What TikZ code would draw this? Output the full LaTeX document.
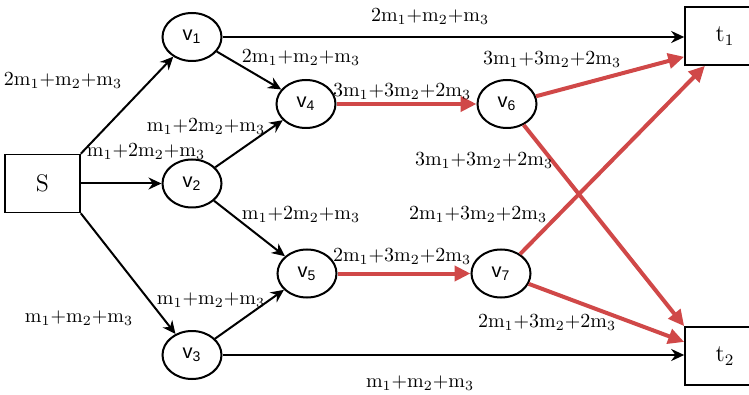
\documentclass[tikz,border=0pt]{standalone}
\usepackage{fontspec}
\usepackage{xcolor}
\usetikzlibrary{arrows.meta, shapes.geometric}
\newfontfamily\vfont{Liberation Sans}
\definecolor{cflow}{HTML}{D04848}
\definecolor{cbk}{HTML}{000000}
\newcommand{\mm}[1]{\mathrm{m}_{#1}}

\begin{document}
\begin{tikzpicture}[x=0.5pt, y=-0.5pt]
    \useasboundingbox (0, 0) rectangle (749, 395);
    \begin{scope}[
        vnode/.style={ellipse, draw=cbk, line width=1pt, minimum width=29.5pt, minimum height=24pt, inner sep=0pt, font=\vfont\normalsize},
        endbox/.style={rectangle, draw=cbk, line width=0.8pt, minimum width=37.5pt, minimum height=29pt, inner sep=0pt, font=\large},
        wlabel/.style={font=\normalsize, inner sep=1pt},
        arrow/.style={-{Stealth[length=6.5pt, width=6pt]}, line width=1pt, draw=cbk},
        flow/.style={-{Triangle[length=8pt, width=7.5pt]}, line width=2pt, draw=cflow}
    ]
        % ================= source, sinks =================
        \node[endbox] (src) at (42.5, 183.5) {S};
        \node[endbox, minimum width=40pt] (t1) at (725, 36) {t$_1$};
        \node[endbox, minimum width=40pt] (t2) at (725, 356) {t$_2$};

        % ================= inner nodes =================
        \node[vnode] (v1) at (192, 37) {v\textsubscript{1}};
        \node[vnode] (v2) at (192, 183.5) {v\textsubscript{2}};
        \node[vnode] (v3) at (192, 355) {v\textsubscript{3}};
        \node[vnode] (v4) at (306, 104) {v\textsubscript{4}};
        \node[vnode] (v5) at (307, 273.5) {v\textsubscript{5}};
        \node[vnode] (v6) at (507, 104) {v\textsubscript{6}};
        \node[vnode] (v7) at (501, 273.5) {v\textsubscript{7}};

        % ================= black edges =================
        \draw[arrow] (src.north east) -- (v1);
        \draw[arrow] (src.east) -- (v2);
        \draw[arrow] (src.south east) -- (v3);
        \draw[arrow] (v1) -- (t1.west |- v1);
        \draw[arrow] (v1) -- (v4);
        \draw[arrow] (v2) -- (v4);
        \draw[arrow] (v2) -- (v5);
        \draw[arrow] (v3) -- (v5);
        \draw[arrow] (v3) -- (t2.west |- v3);

        % ================= red edges =================
        \draw[flow] (v4) -- (v6);
        \draw[flow] (v5) -- (v7);
        \draw[flow] (v6) -- (t1.207);
        \draw[flow] (v6) -- (t2.north west);
        \draw[flow] (v7) -- (t1.236);
        \draw[flow] (v7) -- (t2.161);

        % ================= weights =================
        \node[wlabel] (w_sv1) at (63, 81) {$2\mm1{+}\mm2{+}\mm3$};
        \node[wlabel] (w_sv2) at (146, 152) {$\mm1{+}2\mm2{+}\mm3$};
        \node[wlabel] (w_sv3) at (79, 318) {$\mm1{+}\mm2{+}\mm3$};
        \node[wlabel] (w_v1t1) at (430, 17) {$2\mm1{+}\mm2{+}\mm3$};
        \node[wlabel] (w_v1v4) at (301, 58) {$2\mm1{+}\mm2{+}\mm3$};
        \node[wlabel] (w_v2v4) at (206, 127) {$\mm1{+}2\mm2{+}\mm3$};
        \node[wlabel] (w_v2v5) at (301, 215) {$\mm1{+}2\mm2{+}\mm3$};
        \node[wlabel] (w_v3v5) at (211, 300) {$\mm1{+}\mm2{+}\mm3$};
        \node[wlabel] (w_v3t2) at (420, 383) {$\mm1{+}\mm2{+}\mm3$};
        \node[wlabel] (w_v4v6) at (402, 92) {$3\mm1{+}3\mm2{+}2\mm3$};
        \node[wlabel] (w_v5v7) at (402, 257) {$2\mm1{+}3\mm2{+}2\mm3$};
        \node[wlabel] (w_v6t1) at (552, 60) {$3\mm1{+}3\mm2{+}2\mm3$};
        \node[wlabel] (w_v6t2) at (484, 161) {$3\mm1{+}3\mm2{+}2\mm3$};
        \node[wlabel] (w_v7t1) at (478, 215) {$2\mm1{+}3\mm2{+}2\mm3$};
        \node[wlabel] (w_v7t2) at (547, 323) {$2\mm1{+}3\mm2{+}2\mm3$};
    \end{scope}
\end{tikzpicture}
\end{document}
